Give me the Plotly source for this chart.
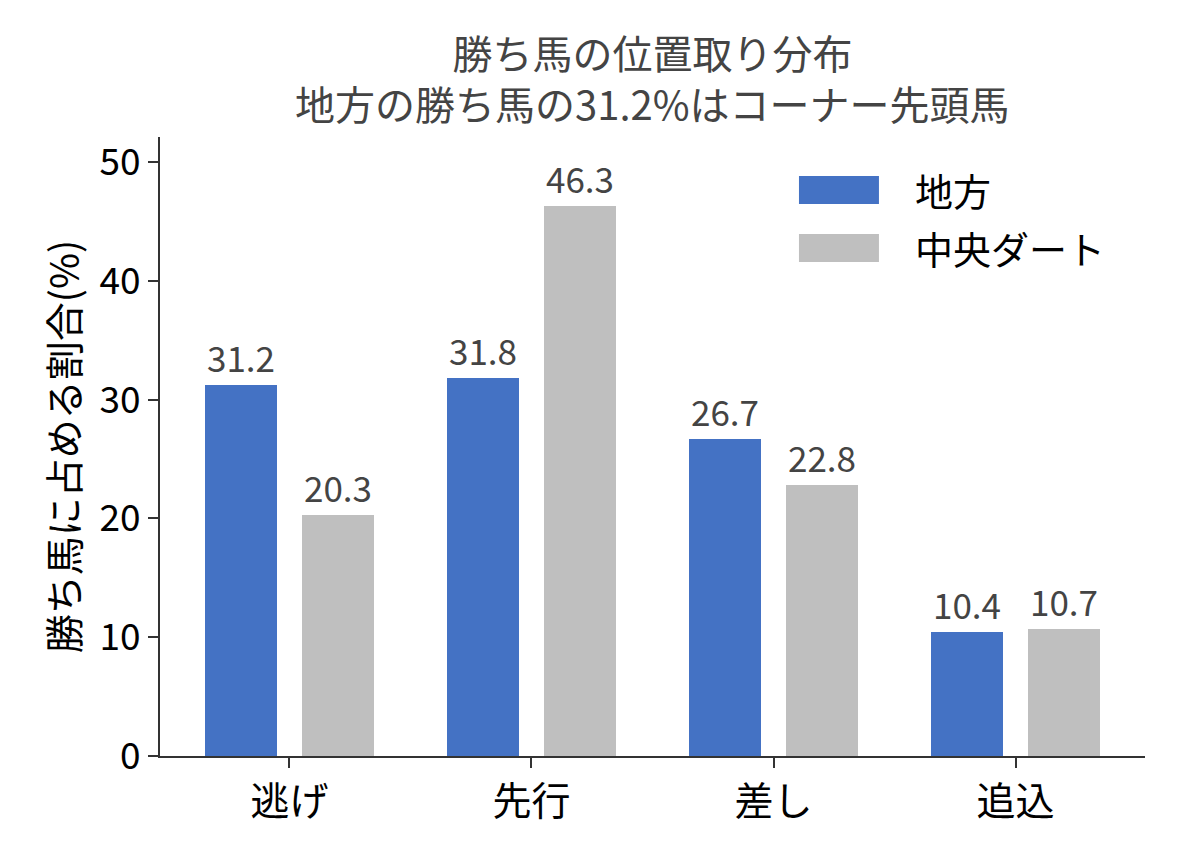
import plotly.graph_objects as go

# データ
categories = ["逃げ", "先行", "差し", "追込"]
chihou = [31.2, 31.8, 26.7, 10.4]
chuou_dirt = [20.3, 46.3, 22.8, 10.7]
series_names = ["地方", "中央ダート"]
y_ticks = [0, 10, 20, 30, 40, 50]
title_lines = ["勝ち馬の位置取り分布", "地方の勝ち馬の31.2%はコーナー先頭馬"]

FONT = "Noto Sans CJK JP"
BLUE = "#4472c4"
GRAY = "#bfbfbf"
colors = [BLUE, GRAY]

fig = go.Figure()
for name, vals, col, off in zip(series_names, [chihou, chuou_dirt], colors, [-0.35, 0.05]):
    fig.add_trace(
        go.Bar(
            x=categories,
            y=vals,
            name=name,
            marker=dict(color=col, line=dict(width=0)),
            width=0.3,
            offset=off,
            text=[f"{v:.1f}" for v in vals],
            textposition="outside",
            textfont=dict(family=FONT, size=35, color="#444444"),
            cliponaxis=False,
            showlegend=False,
        )
    )

# legend drawn as patches + labels (matplotlib style wide swatches)
legend_rows = [(0.937, 0.8918), (0.8433, 0.7981)]
for (y1, y0), name, col in zip(legend_rows, series_names, colors):
    fig.add_shape(
        type="rect", xref="paper", yref="paper",
        x0=0.6487, x1=0.7299, y0=y0, y1=y1,
        fillcolor=col, line=dict(width=0),
    )
    fig.add_annotation(
        xref="paper", yref="paper", x=0.7645, y=(y0 + y1) / 2,
        text=name, showarrow=False, xanchor="left", yanchor="middle",
        font=dict(family=FONT, size=38, color="black"),
    )

# second title line
fig.add_annotation(
    xref="paper", yref="paper", x=0.5, y=(748 - 95) / 619,
    text=title_lines[1], showarrow=False, xanchor="center", yanchor="middle",
    font=dict(family=FONT, size=40, color="#444444"),
)

fig.update_layout(
    width=1188,
    height=858,
    margin=dict(l=152, r=51, t=129, b=110),
    paper_bgcolor="white",
    plot_bgcolor="white",
    font=dict(family=FONT, size=36, color="black"),
    title=dict(
        text=title_lines[0],
        x=0.5,
        xref="paper",
        xanchor="center",
        yref="container",
        y=1 - 47 / 858,
        yanchor="middle",
        font=dict(family=FONT, size=40, color="#444444"),
    ),
    bargap=0,
    showlegend=False,
)
fig.update_xaxes(
    range=[-0.535, 3.535],
    showline=True,
    linecolor="#333333",
    linewidth=2,
    ticks="outside",
    ticklen=10,
    tickwidth=2,
    tickcolor="#333333",
    showgrid=False,
    tickfont=dict(family=FONT, size=39, color="black"),
)
fig.update_yaxes(
    range=[0, 52.1],
    tickvals=y_ticks,
    showline=True,
    linecolor="#333333",
    linewidth=2,
    ticks="outside",
    ticklen=10,
    tickwidth=2,
    tickcolor="#333333",
    showgrid=False,
    zeroline=False,
    tickfont=dict(family=FONT, size=37, color="black"),
    title=dict(text="勝ち馬に占める割合(%)", font=dict(family=FONT, size=39, color="black"), standoff=8),
)

fig.write_html("out.html")
